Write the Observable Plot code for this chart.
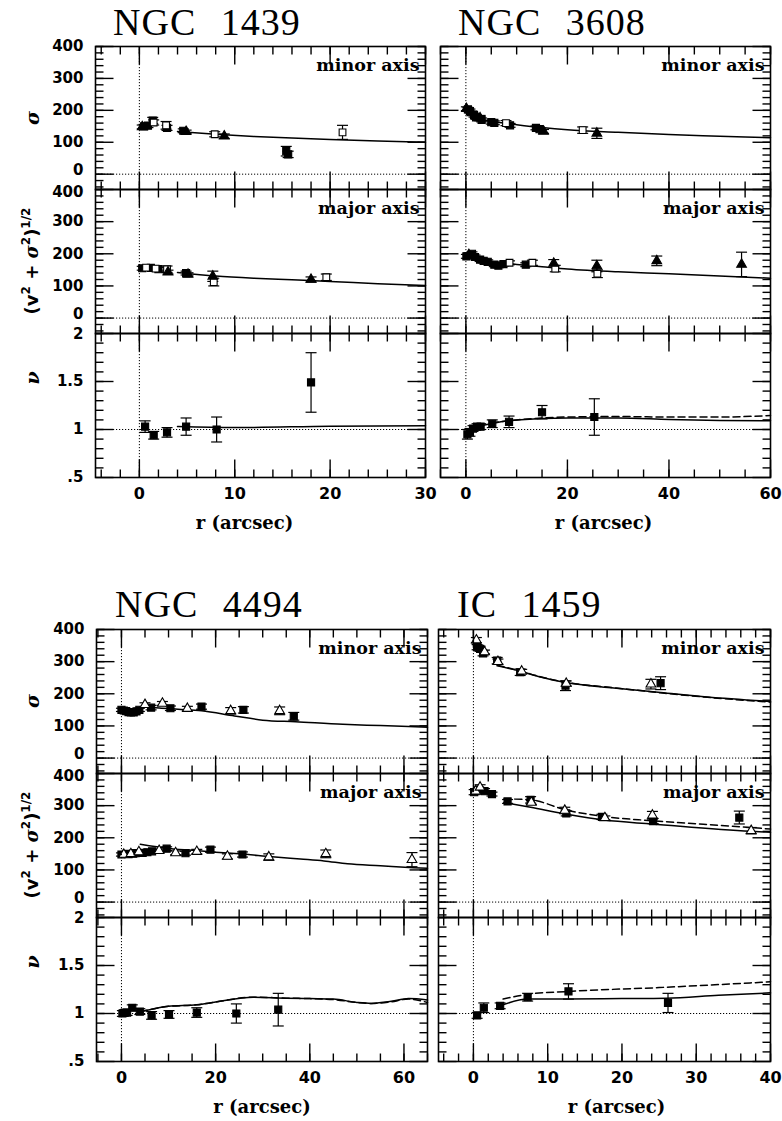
<!DOCTYPE html>
<html><head><meta charset="utf-8">
<script src="https://cdn.jsdelivr.net/npm/d3@7"></script>
<script src="https://cdn.jsdelivr.net/npm/@observablehq/plot@0.6"></script>
<style>
body{margin:0;background:#fff;}
#root{position:relative;width:782px;height:1121px;background:#fff;overflow:hidden;}
.ttl{position:absolute;font-family:"Liberation Serif",serif;font-size:38px;line-height:1;letter-spacing:1px;word-spacing:14px;white-space:pre;color:#000;}
.ylab{position:absolute;white-space:nowrap;transform:translate(-50%,-50%) rotate(-90deg);color:#000;line-height:1;}
.ylab sup{font-size:12px;vertical-align:8px;}
</style></head><body><div id="root"></div>
<script>
// ---------------- DATA ----------------
// observations: [r (arcsec), value, error, dataset]
// datasets: sq = filled square, sqo = open square, tri = filled triangle, trio = open triangle
const n1439_sigma = [
  [0.3,148,6,"tri"],[0.5,150,6,"sq"],[0.9,152,6,"sq"],[1.4,168,10,"sq"],[1.5,162,8,"sqo"],
  [2.8,153,12,"sqo"],[2.9,145,8,"sq"],[4.6,136,6,"sq"],[4.9,133,5,"tri"],[7.9,125,8,"sqo"],
  [8.9,119,7,"tri"],[15.4,72,15,"sq"],[15.6,62,10,"sq"],[21.3,131,22,"sqo"]
];
const n1439_vrms = [
  [0.3,155,6,"sq"],[0.7,157,6,"sqo"],[1.2,156,6,"sq"],[1.7,154,6,"sqo"],[2.0,152,6,"sq"],
  [2.9,152,10,"sqo"],[3.0,143,6,"tri"],[4.9,140,6,"sq"],[5.1,136,5,"tri"],[7.7,130,16,"tri"],
  [7.8,112,12,"sqo"],[18.0,120,8,"tri"],[19.6,127,10,"sqo"]
];
const n1439_nu = [
  [0.6,1.03,0.06,"sq"],[1.5,0.94,0.04,"sq"],[2.9,0.97,0.05,"sq"],[4.9,1.03,0.09,"sq"],
  [8.1,1.00,0.13,"sq"],[18.0,1.49,0.31,"sq"]
];
const n1439_sigma_model = [[4,134],[8,125],[12,118],[16,113],[20,109],[25,104],[30,100]];
const n1439_vrms_model  = [[4,142],[8,131],[12,124],[16,119],[20,114],[25,107],[30,101]];
const n1439_nu_model    = [[4,1.03],[10,1.02],[20,1.035],[30,1.04]];

const n3608_sigma = [
  [0.1,205,6,"tri"],[0.4,203,6,"sq"],[0.8,198,6,"sq"],[1.2,192,6,"tri"],[1.6,185,6,"sq"],
  [2.0,178,6,"sq"],[2.8,176,8,"tri"],[3.1,170,6,"sq"],[5.0,163,6,"sq"],[5.6,161,6,"sq"],
  [7.9,160,8,"sqo"],[8.7,153,6,"sq"],[13.8,145,6,"sq"],[14.5,141,6,"sq"],[15.3,134,6,"tri"],
  [23.0,138,10,"sqo"],[25.8,128,16,"tri"]
];
const n3608_vrms = [
  [0.1,192,6,"sq"],[0.6,197,6,"tri"],[1.2,200,6,"sq"],[1.8,190,6,"sq"],[2.8,182,6,"sq"],
  [3.5,178,6,"sq"],[4.3,175,6,"sq"],[5.6,166,6,"sq"],[6.4,163,6,"sq"],[7.4,168,6,"sq"],
  [8.6,172,6,"sqo"],[11.8,166,6,"sq"],[13.1,172,8,"sqo"],[17.3,170,12,"tri"],[17.6,154,10,"sqo"],
  [25.8,162,18,"tri"],[25.9,138,12,"sqo"],[37.6,178,15,"tri"],[54.3,167,38,"tri"]
];
const n3608_nu = [
  [0.3,0.95,0.05,"sq"],[0.8,0.97,0.04,"sq"],[1.4,1.01,0.03,"sq"],[2.2,1.03,0.03,"sq"],
  [2.9,1.03,0.03,"sq"],[5.2,1.06,0.04,"sq"],[8.5,1.08,0.06,"sq"],[15.0,1.18,0.07,"sq"],
  [25.3,1.13,0.19,"sq"]
];
const n3608_sigma_model = [[0,205],[1,193],[2,180],[4,168],[7,161],[10,155],[15,146],[20,139],[30,131],[40,124],[50,119],[60,114]];
const n3608_vrms_model  = [[0,195],[2,187],[5,175],[10,167],[15,160],[20,153],[30,144],[40,138],[50,131],[60,124]];
const n3608_nu_model    = [[0.5,0.97],[2,1.02],[5,1.06],[10,1.10],[20,1.12],[30,1.12],[40,1.105],[50,1.095],[60,1.09]];
const n3608_nu_model2   = [[5,1.07],[10,1.10],[20,1.13],[30,1.135],[40,1.13],[50,1.13],[60,1.145]];

const n4494_sigma = [
  [0.0,150,5,"sq"],[0.5,148,5,"sq"],[1.0,146,5,"sq"],[1.5,143,5,"sq"],[2.0,142,5,"sq"],
  [2.6,142,5,"sq"],[3.2,145,5,"sq"],[3.8,150,5,"sq"],[5.0,166,6,"trio"],[6.3,157,7,"sq"],
  [8.7,170,6,"trio"],[10.4,155,7,"sq"],[14.0,154,7,"trio"],[17.0,160,8,"sq"],[23.2,147,10,"trio"],
  [25.9,150,10,"sq"],[33.6,147,12,"trio"],[36.6,130,12,"sq"]
];
const n4494_vrms = [
  [0.0,148,5,"sq"],[0.5,148,5,"trio"],[1.0,150,5,"sq"],[1.5,149,5,"sq"],[2.0,150,5,"trio"],
  [2.5,151,5,"sq"],[3.0,152,5,"sq"],[3.7,156,5,"trio"],[4.5,153,5,"sq"],[5.5,155,5,"sq"],
  [6.5,158,5,"sq"],[8.0,160,5,"trio"],[9.6,166,6,"sq"],[11.5,153,6,"trio"],[13.6,152,6,"sq"],
  [16.0,157,7,"trio"],[18.9,163,8,"sq"],[22.5,142,8,"trio"],[25.7,148,8,"sq"],[31.3,140,10,"trio"],
  [43.4,150,12,"trio"],[61.7,132,22,"trio"]
];
const n4494_nu = [
  [0.2,1.00,0.03,"sq"],[0.7,1.01,0.03,"sq"],[1.2,1.01,0.03,"sq"],[2.3,1.06,0.03,"sq"],
  [3.9,1.02,0.03,"sq"],[6.4,0.98,0.04,"sq"],[10.1,0.99,0.04,"sq"],[16.0,1.01,0.05,"sq"],
  [24.4,1.00,0.10,"sq"],[33.3,1.04,0.17,"sq"]
];
const n4494_sigma_model = [[0,150],[3,153],[5,158],[8,156],[12,152],[17,147],[24,131],[30,118],[37,113],[47,105],[55,101],[61,98],[65,96]];
const n4494_vrms_model  = [[4,180],[10,167],[15,161],[20,155],[25,150],[32,141],[38,134],[43,128],[48,119],[55,113],[62,107],[65,105]];
const n4494_nu_model    = [[4,1.02],[6,1.04],[10,1.075],[16,1.09],[20,1.12],[28,1.17],[35,1.16],[40,1.155],[45,1.15],[50,1.115],[53,1.105],[57,1.125],[61,1.155],[65,1.14]];
const n4494_nu_model2   = [[4,1.02],[6,1.04],[10,1.075],[16,1.09],[20,1.12],[28,1.17],[35,1.16],[40,1.155],[45,1.145],[50,1.115],[53,1.105],[57,1.12],[61,1.15],[65,1.115]];

const ic1459_sigma = [
  [0.4,367,8,"trio"],[0.5,345,8,"sq"],[0.9,340,8,"sq"],[1.3,326,8,"sq"],[1.5,330,6,"trio"],
  [3.2,303,10,"sq"],[3.3,300,8,"trio"],[6.3,267,10,"sq"],[6.5,270,6,"trio"],[12.4,225,15,"sq"],
  [12.5,232,8,"trio"],[23.9,230,15,"trio"],[25.2,233,20,"sq"]
];
const ic1459_vrms = [
  [0.1,342,8,"sq"],[0.3,345,8,"trio"],[0.7,350,8,"sq"],[0.9,357,8,"trio"],[1.5,345,8,"sq"],
  [2.5,336,6,"sq"],[4.6,313,6,"sq"],[7.7,318,10,"sq"],[7.8,310,6,"trio"],[12.3,285,10,"trio"],
  [12.5,276,8,"sq"],[17.3,265,8,"sq"],[17.7,262,6,"trio"],[24.1,270,12,"trio"],[24.2,252,8,"sq"],
  [35.8,263,20,"sq"],[37.4,222,10,"trio"]
];
const ic1459_nu = [
  [0.5,0.98,0.03,"sq"],[1.4,1.06,0.05,"sq"],[3.6,1.08,0.03,"sq"],[7.3,1.17,0.04,"sq"],
  [12.8,1.23,0.08,"sq"],[26.2,1.11,0.10,"sq"]
];
const ic1459_sigma_model  = [[3.2,287],[6.3,270],[9,252],[12.4,235],[18.9,218],[25.2,204],[31.5,190],[40,176]];
const ic1459_sigma_model2 = [[3.2,289],[6.3,271],[9,253],[12.4,236],[18.9,219],[25.2,203],[31.5,189],[40,174]];
const ic1459_vrms_model   = [[4.1,310],[7.7,295],[12.4,274],[17.6,255],[24.1,243],[37.3,220],[40,217]];
const ic1459_vrms_model2  = [[4.1,321],[7.7,318],[12.4,287],[17.6,266],[24.1,253],[37.3,232],[40,227]];
const ic1459_nu_model     = [[3.6,1.08],[7.3,1.15],[12.8,1.15],[20,1.155],[26,1.16],[33,1.19],[40,1.215]];
const ic1459_nu_model2    = [[4,1.15],[7.3,1.2],[12.8,1.23],[25,1.27],[40,1.33]];

// tick labels
const velTicks = [0, 100, 200, 300, 400];
const nuTicks = [0.5, 1, 1.5, 2];
const panelTags = ["minor axis", "major axis", null];
const xTitle = "r (arcsec)";

// ---------------- LAYOUT ----------------
const groups = [
  {name:"NGC 1439", tx:113, ty:35, rows:[46,189,333,477], left:95, right:425, xDomain:[-4.6,30], xMajor:[0,10,20,30], xStep:2, yLabels:true, titleDx:-16,
   obs:[n1439_sigma,n1439_vrms,n1439_nu], solid:[n1439_sigma_model,n1439_vrms_model,n1439_nu_model], dashed:[null,null,null]},
  {name:"NGC 3608", tx:458, ty:35, rows:[46,189,333,477], left:440, right:770, xDomain:[-5,60], xMajor:[0,20,40,60], xStep:5, yLabels:false, titleDx:-2,
   obs:[n3608_sigma,n3608_vrms,n3608_nu], solid:[n3608_sigma_model,n3608_vrms_model,n3608_nu_model], dashed:[null,null,n3608_nu_model2]},
  {name:"NGC 4494", tx:115, ty:617, rows:[629,773,917,1061], left:96, right:427, xDomain:[-5.3,65], xMajor:[0,20,40,60], xStep:5, yLabels:true, titleDx:0,
   obs:[n4494_sigma,n4494_vrms,n4494_nu], solid:[n4494_sigma_model,n4494_vrms_model,n4494_nu_model], dashed:[null,null,n4494_nu_model2]},
  {name:"IC 1459", tx:457, ty:617, rows:[629,773,917,1061], left:438, right:770, xDomain:[-4.7,40], xMajor:[0,10,20,30,40], xStep:2, yLabels:false, titleDx:12,
   obs:[ic1459_sigma,ic1459_vrms,ic1459_nu], solid:[ic1459_sigma_model,ic1459_vrms_model,ic1459_nu_model], dashed:[ic1459_sigma_model2,ic1459_vrms_model2,ic1459_nu_model2]}
];

const root = document.getElementById("root");
const setStyle = {
  sq:   {symbol:"square", fill:"#000", r:4},
  sqo:  {symbol:"square", fill:"#fff", r:3.8},
  tri:  {symbol:"triangle", fill:"#000", r:3.6},
  trio: {symbol:"triangle", fill:"#fff", r:3.6}
};
const LMAJ = 18, LMIN = 8, CAP = 5.5;
const fmtY = d => d === 0.5 ? ".5" : String(d);

function geom(g, k) {
  const top = g.rows[k], bottom = g.rows[k+1];
  const W = g.right - g.left, H = bottom - top;
  const isNu = k === 2, xLabels = k === 2;
  const mL = g.yLabels ? 95 : 15, mR = 15, mT = 6, mB = xLabels ? 64 : 6;
  return {top, W, H, isNu, xLabels, mL, mR, mT, mB,
          yDomain: isNu ? [0.5, 2] : [-48, 400],
          yMajor: isNu ? nuTicks : velTicks};
}
function frameOpts(g, G) {
  return {
    width: G.mL + G.W + G.mR, height: G.mT + G.H + G.mB,
    marginLeft: G.mL, marginRight: G.mR, marginTop: G.mT, marginBottom: G.mB,
    x: {domain: [g.xDomain[0], g.xDomain[1]], axis: null},
    y: {domain: [G.yDomain[0], G.yDomain[1]], axis: null},
    style: {background: "none", overflow: "visible"}
  };
}
function place(svg, x, y, z) {
  svg.style.position = "absolute";
  svg.style.left = x + "px";
  svg.style.top = y + "px";
  svg.style.zIndex = String(z);
  root.appendChild(svg);
}

// frame layer: reference lines, inward ticks on all four sides, box
function frameLayer(g, k) {
  const G = geom(g, k);
  const yMinor = G.isNu ? d3.range(0.6, 2.0001, 0.1) : d3.range(-40, 400.001, 20);
  const xMinor = d3.range(Math.ceil(g.xDomain[0]/g.xStep)*g.xStep, g.xDomain[1]+1e-9, g.xStep);
  const xa = g.xDomain[0], xb = g.xDomain[1], ya = G.yDomain[0], yb = G.yDomain[1];
  const kx = (xb - xa) / G.W, ky = (yb - ya) / G.H;   // data units per pixel (tick lengths)
  const segs = [];
  for (const [vals, L] of [[g.xMajor, LMAJ], [xMinor, LMIN]]) for (const v of vals) {
    segs.push({x1:v, x2:v, y1:ya, y2:ya + L*ky});
    segs.push({x1:v, x2:v, y1:yb - L*ky, y2:yb});
  }
  for (const [vals, L] of [[G.yMajor, LMAJ], [yMinor, LMIN]]) for (const v of vals) {
    segs.push({x1:xa, x2:xa + L*kx, y1:v, y2:v});
    segs.push({x1:xb - L*kx, x2:xb, y1:v, y2:v});
  }
  place(Plot.plot({...frameOpts(g, G), marks:[
    Plot.ruleX([0], {stroke:"#000", strokeWidth:1, strokeDasharray:"1.2,1.8"}),
    Plot.ruleY([G.isNu ? 1 : 0], {stroke:"#000", strokeWidth:1, strokeDasharray:"1.2,1.8"}),
    Plot.link(segs, {x1:"x1", x2:"x2", y1:"y1", y2:"y2", stroke:"#000", strokeWidth:1.4}),
    Plot.frame({stroke:"#000", strokeWidth:1.6})
  ]}), g.left - G.mL, G.top - G.mT, 2);
}

// data layer: model lines, error bars, markers, labels
function dataLayer(g, k) {
  const G = geom(g, k);
  const obs = g.obs[k].map(([r,v,e,s]) => ({r,v,e,s}));
  const asLine = a => a.map(([r,v]) => ({r,v}));
  const kx = (g.xDomain[1] - g.xDomain[0]) / G.W;
  const marks = [];
  if (g.solid[k]) marks.push(Plot.line(asLine(g.solid[k]), {x:"r", y:"v", stroke:"#000", strokeWidth:1.5, curve:"monotone-x"}));
  if (g.dashed[k]) marks.push(Plot.line(asLine(g.dashed[k]), {x:"r", y:"v", stroke:"#000", strokeWidth:1.5, strokeDasharray:"7,4", curve:"monotone-x"}));
  marks.push(Plot.link(obs, {x1:"r", x2:"r", y1:d=>d.v-d.e, y2:d=>d.v+d.e, stroke:"#000", strokeWidth:1.2}));
  marks.push(Plot.link(obs, {x1:d=>d.r-CAP*kx, x2:d=>d.r+CAP*kx, y1:d=>d.v+d.e, y2:d=>d.v+d.e, stroke:"#000", strokeWidth:1.2}));
  marks.push(Plot.link(obs, {x1:d=>d.r-CAP*kx, x2:d=>d.r+CAP*kx, y1:d=>d.v-d.e, y2:d=>d.v-d.e, stroke:"#000", strokeWidth:1.2}));
  for (const key of Object.keys(setStyle)) {
    const st = setStyle[key];
    marks.push(Plot.dot(obs.filter(d => d.s === key), {x:"r", y:"v", symbol:st.symbol, r:st.r, fill:st.fill, stroke:"#000", strokeWidth:1.1}));
  }
  if (panelTags[k]) marks.push(Plot.text([panelTags[k]], {text:d=>d, frameAnchor:"top-right", textAnchor:"end", lineAnchor:"bottom", dx:-6, dy:24, fontFamily:"DejaVu Serif", fontWeight:"bold", fontSize:17.5, fill:"#000"}));
  if (g.yLabels) {
    const ax = {anchor:"left", tickSize:0, tickPadding:12, tickFormat:fmtY, label:null, fontFamily:"DejaVu Sans", fontWeight:"bold", fontSize:15, fill:"#000"};
    const yMajor = G.yMajor;
    const lowest = yMajor[0], highest = yMajor[yMajor.length-1];
    marks.push(Plot.axisY(yMajor.filter(d => d !== lowest && d !== highest), ax));
    marks.push(Plot.axisY([lowest], {...ax, dy: G.isNu ? 0 : -4}));
    marks.push(Plot.axisY([highest], {...ax, dy: k === 0 ? 0 : (G.isNu ? 1 : 3)}));
  }
  if (G.xLabels) {
    marks.push(Plot.axisX(g.xMajor, {anchor:"bottom", tickSize:0, tickPadding:10, label:null, fontFamily:"DejaVu Sans", fontWeight:"bold", fontSize:16, fill:"#000"}));
    marks.push(Plot.text([xTitle], {text:d=>d, frameAnchor:"bottom", lineAnchor:"bottom", dx:g.titleDx, dy:51, fontFamily:"DejaVu Serif", fontWeight:"bold", fontSize:18, fill:"#000"}));
  }
  place(Plot.plot({...frameOpts(g, G), marks}), g.left - G.mL, G.top - G.mT, 1);
}

// frames first (drawn on top via z-index), then data
for (const g of groups) for (let k = 0; k < 3; k++) frameLayer(g, k);
for (const g of groups) for (let k = 0; k < 3; k++) dataLayer(g, k);

// ---------------- TEXT (titles, y-axis names) ----------------
function addDiv(cls, x, y, html, extra) {
  const d = document.createElement("div");
  d.className = cls;
  d.style.left = x + "px";
  d.style.top = y + "px";
  d.style.zIndex = "3";
  if (extra) Object.assign(d.style, extra);
  d.innerHTML = html;
  root.appendChild(d);
}
for (const g of groups) addDiv("ttl", g.tx, g.ty - 32, g.name);

function yAxisLabels(rows) {
  const c1 = (rows[0]+rows[1])/2, c2 = (rows[1]+rows[2])/2;
  const greek = {fontFamily:"DejaVu Serif", fontStyle:"italic", fontWeight:"bold", fontSize:"19px"};
  addDiv("ylab", 32, c1, "σ", greek);
  addDiv("ylab", 30, c2, "(v<sup>2</sup> + <i style=\"font-family:'DejaVu Serif'\">σ</i><sup>2</sup>)<sup>1/2</sup>",
         {fontFamily:"DejaVu Sans", fontWeight:"bold", fontSize:"18px"});
  addDiv("ylab", 32, rows[2] + 45, "ν", greek);
}
yAxisLabels(groups[0].rows);
yAxisLabels(groups[2].rows);
</script></body></html>
